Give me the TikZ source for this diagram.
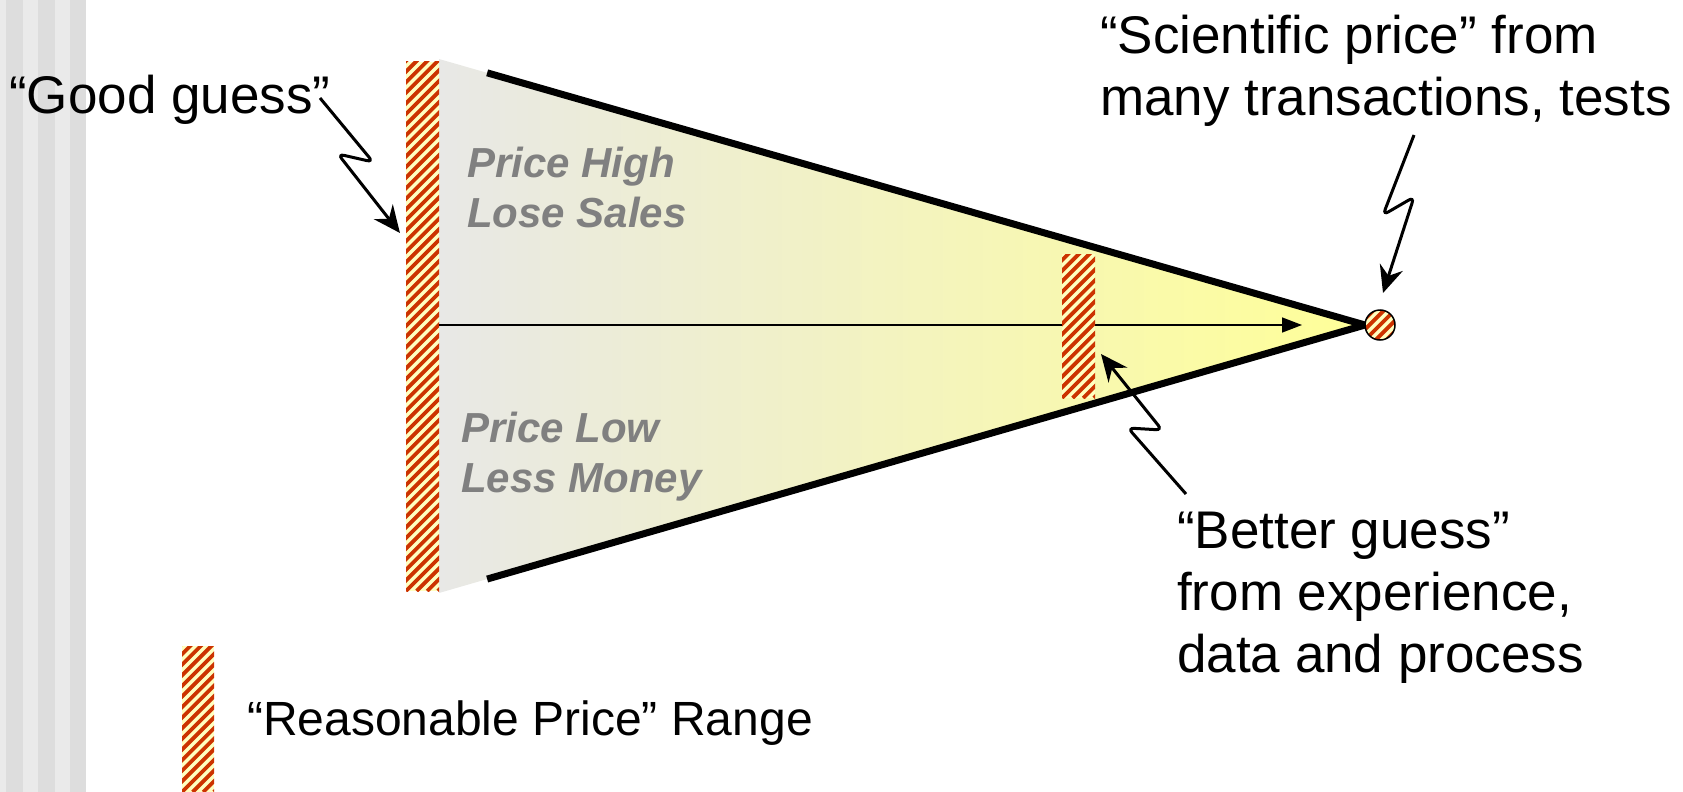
\documentclass[tikz,border=0pt]{standalone}
\usepackage{fontspec}
\setmainfont{Liberation Sans}
\usetikzlibrary{arrows.meta,calc}
\definecolor{hatchred}{RGB}{204,51,0}
\definecolor{hatchbg}{RGB}{255,255,192}
\definecolor{stripeA}{RGB}{234,234,234}
\definecolor{stripeB}{RGB}{221,221,221}
\definecolor{conegray}{RGB}{232,232,230}
\definecolor{conemid}{RGB}{239,239,214}
\definecolor{coneyel}{RGB}{255,255,152}
\definecolor{labelgray}{RGB}{128,128,128}
\tikzset{
  hatchbar/.style={draw=none, fill=hatchbg, inner sep=0pt, outer sep=0pt,
    path picture={
      \foreach \k in {-60,...,6}{
        \draw[hatchred, line width=3.8pt]
          ([xshift=\k*10.6pt]path picture bounding box.south west) -- ++(700pt,700pt);
      }}},
  bigtext/.style={font=\fontsize{53}{62}\selectfont, inner sep=0pt, text=black},
  legendtext/.style={font=\fontsize{48}{58}\selectfont, inner sep=0pt, text=black},
  pricetext/.style={font=\fontsize{42}{50}\selectfont\bfseries\itshape, inner sep=0pt, text=labelgray},
  coneedge/.style={line width=7pt, line join=round, draw=black},
  midarrow/.style={line width=1.5pt, -{Triangle[length=20pt,width=15pt]}},
  zig/.style={line width=3pt, rounded corners=6pt, -{Stealth[length=27pt,width=24pt,inset=9pt]}}
}
\begin{document}
\begin{tikzpicture}[x=1pt,y=-1pt]
\useasboundingbox (0,0) rectangle (1683,792);
% left background stripes
\fill[stripeA] (0,0) rectangle (86,792);
\fill[stripeB] (6,0) rectangle (23,792);
\fill[stripeB] (38,0) rectangle (55,792);
\fill[stripeB] (70,0) rectangle (86,792);
% cone
\coordinate (ctl) at (439,59);
\coordinate (cbl) at (439,593);
\coordinate (tip) at (1365,325);
\shade[left color=conegray, middle color=conemid, right color=coneyel] (ctl) -- (tip) -- (cbl) -- cycle;
\draw[coneedge] ($(ctl)!0.052!(tip)$) -- (tip) -- ($(cbl)!0.052!(tip)$);
% bars and dot
\node[hatchbar, minimum width=33pt, minimum height=529pt] (bigbar) at (422.5,326.5) {};
\node[circle, draw=none, minimum size=30pt, inner sep=0pt] (dot) at (1380,325) {};
\coordinate (arrowend) at (1302,325);
\draw[midarrow] (bigbar.east |- dot.center) -- (arrowend);
\node[hatchbar, minimum width=33pt, minimum height=144pt] (smallbar) at (1078.5,326) {};
\node[hatchbar, circle, minimum size=30pt] (dotfill) at (dot.center) {};
\draw[line width=1.5pt] (dot.center) circle[radius=15pt];
\node[hatchbar, minimum width=32pt, minimum height=146pt] (legendbar) at (198,719) {};
% texts
\node[bigtext, anchor=base west] (good) at (9,113) {“Good guess”};
\node[bigtext, anchor=base west, align=left] (sci) at (1100,115) {“Scientific price” from\\many transactions, tests};
\node[bigtext, anchor=base west, align=left] (better) at (1177,672) {“Better guess”\\from experience,\\data and process};
\node[legendtext, anchor=base west] (legend) at (247,735) {“Reasonable Price” Range};
\node[pricetext, anchor=base west, align=left] (high) at (467,227) {Price High\\Lose Sales};
\node[pricetext, anchor=base west, align=left] (low) at (461,492) {Price Low\\Less Money};
% zigzag callouts
\coordinate (g0) at (320,98);
\coordinate (g1) at (373,162);
\coordinate (g2) at (338,154);
\coordinate (g3) at (400,233);
\draw[zig] (g0) -- (g1) -- (g2) -- (g3);
\coordinate (s0) at (1414,135);
\coordinate (s1) at (1383,215);
\coordinate (s2) at (1414,197);
\coordinate (s3) at (1383,293);
\draw[zig] (s0) -- (s1) -- (s2) -- (s3);
\coordinate (b0) at (1186,494);
\coordinate (b1) at (1128,428);
\coordinate (b2) at (1162,430);
\coordinate (b3) at (1101,354);
\draw[zig] (b0) -- (b1) -- (b2) -- (b3);
\end{tikzpicture}
\end{document}
